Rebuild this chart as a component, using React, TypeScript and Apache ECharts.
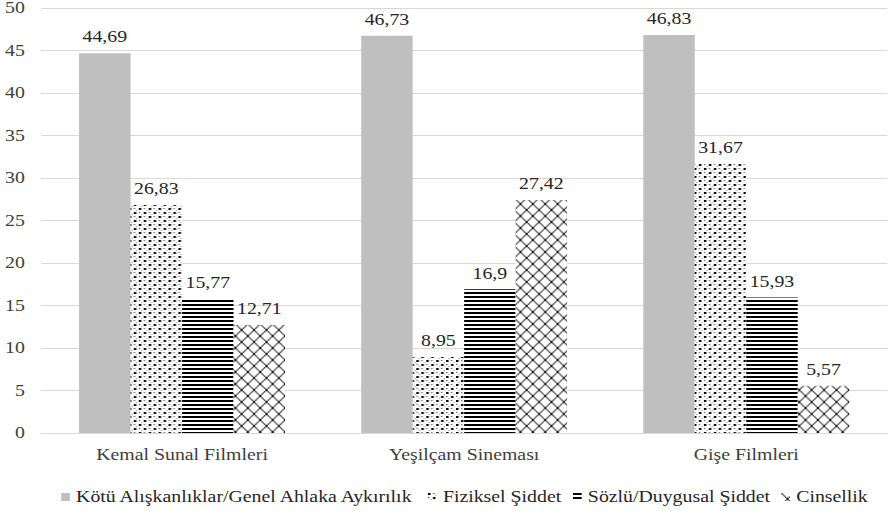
import React, { useEffect, useRef } from "react";
import * as echarts from "echarts";

const categories = ["Kemal Sunal Filmleri", "Yeşilçam Sineması", "Gişe Filmleri"];
const seriesNames = [
  "Kötü Alışkanlıklar/Genel Ahlaka Aykırılık",
  "Fiziksel Şiddet",
  "Sözlü/Duygusal Şiddet",
  "Cinsellik",
];
const kotuAliskanliklar = [44.69, 46.73, 46.83];
const fizikselSiddet = [26.83, 8.95, 31.67];
const sozluSiddet = [15.77, 16.9, 15.93];
const cinsellik = [12.71, 27.42, 5.57];
const yTicks = { min: 0, max: 50, interval: 5 };

const FONT = "Liberation Serif";
// the chart is laid out narrow and stretched horizontally to the page width
const PAGE_W = 891;
const PAGE_H = 511;
const INNER_W = 719;
const STRETCH = PAGE_W / INNER_W;
const legendLefts = [44.4, 340.4, 457.4, 625.5];

function tile(w: number, h: number, draw: (c: CanvasRenderingContext2D) => void) {
  const cv = document.createElement("canvas");
  cv.width = w;
  cv.height = h;
  const ctx = cv.getContext("2d")!;
  ctx.fillStyle = "#ffffff";
  ctx.fillRect(0, 0, w, h);
  draw(ctx);
  return cv;
}

function dotPattern() {
  return tile(8, 8, (c) => {
    c.fillStyle = "#000";
    c.fillRect(0, 0, 2, 2);
    c.fillRect(4, 4, 2, 2);
    c.fillStyle = "#555";
    c.fillRect(4, 0, 1, 1);
    c.fillRect(0, 4, 1, 1);
    c.fillStyle = "#999";
    c.fillRect(2, 6, 1, 1);
    c.fillRect(6, 2, 1, 1);
  });
}

function linePattern() {
  return tile(4, 4, (c) => {
    c.fillStyle = "#000";
    c.fillRect(0, 0, 4, 2);
  });
}

function crossPattern() {
  return tile(10, 12, (c) => {
    c.strokeStyle = "#000";
    c.lineWidth = 1;
    c.beginPath();
    c.moveTo(0, 0);
    c.lineTo(10, 12);
    c.moveTo(10, 0);
    c.lineTo(0, 12);
    c.stroke();
  });
}

const fmt = (p: any) => String(p.value).replace(".", ",");

export default function App() {
  const ref = useRef<HTMLDivElement>(null);

  useEffect(() => {
    document.body.style.margin = "0";
    const chart = echarts.init(ref.current!, null, { renderer: "svg" });
    const fills: any[] = [
      "#bfbfbf",
      { image: dotPattern().toDataURL(), repeat: "repeat" },
      { image: linePattern().toDataURL(), repeat: "repeat" },
      { image: crossPattern().toDataURL(), repeat: "repeat" },
    ];
    const data = [kotuAliskanliklar, fizikselSiddet, sozluSiddet, cinsellik];
    chart.setOption({
      animation: false,
      backgroundColor: "#ffffff",
      textStyle: { fontFamily: FONT, fontSize: 16 },
      grid: { left: 33.1, right: 3, top: 8, bottom: 78 },
      legend: seriesNames.map((name, i) => ({
        left: legendLefts[i],
        top: 484,
        itemWidth: 7,
        itemHeight: 8,
        itemGap: 5,
        icon: "rect",
        textStyle: { fontFamily: FONT, fontSize: 16, color: "#262626" },
        data: [name],
      })),
      xAxis: {
        type: "category",
        data: categories,
        axisLine: { lineStyle: { color: "#d9d9d9" } },
        axisTick: { show: false },
        axisLabel: { fontFamily: FONT, fontSize: 16, color: "#404040", margin: 14 },
      },
      yAxis: {
        type: "value",
        min: yTicks.min,
        max: yTicks.max,
        interval: yTicks.interval,
        axisLine: { show: false },
        axisTick: { show: false },
        splitLine: { lineStyle: { color: "#d9d9d9" } },
        axisLabel: { fontFamily: FONT, fontSize: 16, color: "#404040", margin: 13 },
      },
      series: seriesNames.map((name, i) => ({
        name,
        type: "bar",
        data: data[i],
        barGap: "0%",
        barCategoryGap: "27%",
        itemStyle: { color: fills[i] },
        label: {
          show: true,
          position: "top",
          distance: 8,
          formatter: fmt,
          fontFamily: FONT,
          fontSize: 16,
          color: "#262626",
        },
      })),
    });
    return () => chart.dispose();
  }, []);

  return (
    <div style={{ width: PAGE_W, height: PAGE_H, overflow: "hidden", background: "#fff" }}>
      <style>{`.stretched-chart, .stretched-chart * { font-family: "Liberation Serif", serif !important; }`}</style>
      <div
        ref={ref}
        className="stretched-chart"
        style={{
          width: INNER_W,
          height: PAGE_H,
          transform: `scaleX(${STRETCH})`,
          transformOrigin: "0 0",
        }}
      />
    </div>
  );
}
